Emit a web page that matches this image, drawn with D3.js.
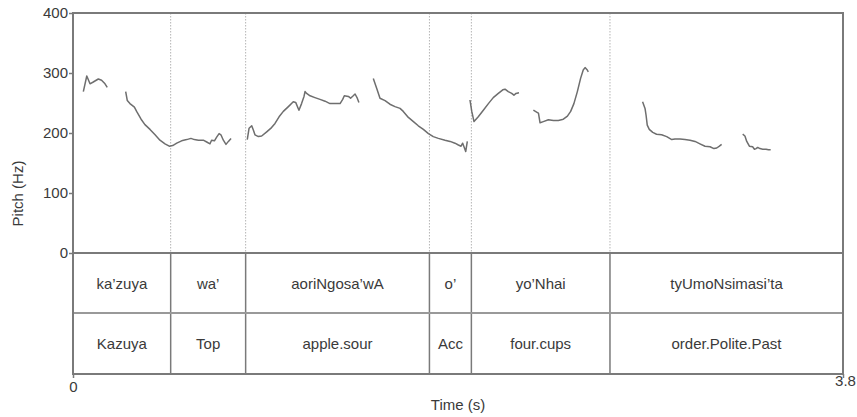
<!DOCTYPE html>
<html>
<head>
<meta charset="utf-8">
<script src="https://cdn.jsdelivr.net/npm/d3@7"></script>
<style>
  html, body { margin: 0; padding: 0; background: #fff; }
  svg { display: block; }
  text { font-family: "Liberation Sans", Arial, sans-serif; fill: #3a3a3a; }
</style>
</head>
<body>
<svg id="chart" width="857" height="417"></svg>
<script>
// ---- Data ----
const pitchTicks = [0, 100, 200, 300, 400];
const timeTickLabels = ["0", "3.8"];
const timeDomain = [0, 3.8];
const pitchDomain = [0, 400];

// interval boundaries (s)
const boundaries = [0.482, 0.852, 1.759, 1.966, 2.650];

// tier labels
const wordLabels = ["ka\u2019zuya", "wa\u2019", "aoriNgosa\u2019wA", "o\u2019", "yo\u2019Nhai", "tyUmoNsimasi\u2019ta"];
const glossLabels = ["Kazuya", "Top", "apple.sour", "Acc", "four.cups", "order.Polite.Past"];

// pitch contour segments: [time (s), pitch (Hz)]
const seg1 = [[0.051,269],[0.068,295],[0.084,282],[0.100,285],[0.125,290],[0.141,288],[0.158,282],[0.169,276]];
const seg2 = [[0.260,269],[0.268,254],[0.281,249],[0.303,243],[0.314,236],[0.336,223],[0.355,214],[0.380,206],[0.405,197],[0.429,188],[0.454,182],[0.475,178],[0.492,179],[0.512,183],[0.536,187],[0.561,189],[0.582,191],[0.599,189],[0.619,188],[0.643,188],[0.660,185],[0.676,182],[0.684,188],[0.698,187],[0.709,193],[0.721,199],[0.730,197],[0.742,188],[0.755,181],[0.767,186],[0.780,191]];
const seg3 = [[0.860,189],[0.869,208],[0.882,212],[0.890,205],[0.898,197],[0.915,194],[0.931,195],[0.956,202],[0.980,209],[0.997,216],[1.017,227],[1.038,236],[1.063,244],[1.087,252],[1.099,251],[1.115,238],[1.128,249],[1.140,261],[1.145,269],[1.153,266],[1.170,262],[1.194,259],[1.219,256],[1.244,253],[1.268,249],[1.293,249],[1.318,249],[1.331,256],[1.339,262],[1.359,261],[1.370,258],[1.383,262],[1.392,265],[1.403,258],[1.411,251]];
const seg4 = [[1.482,291],[1.499,274],[1.515,258],[1.540,254],[1.564,248],[1.589,244],[1.614,241],[1.630,236],[1.655,226],[1.680,219],[1.704,212],[1.729,206],[1.754,199],[1.778,194],[1.803,191],[1.836,188],[1.861,186],[1.885,183],[1.902,180],[1.915,178],[1.923,183],[1.931,176],[1.938,169],[1.946,186]];
const seg5 = [[1.959,255],[1.968,236],[1.979,219],[2.000,227],[2.025,238],[2.050,249],[2.074,259],[2.099,266],[2.121,272],[2.132,273],[2.148,269],[2.165,266],[2.176,263],[2.186,266],[2.201,267]];
const seg6 = [[2.272,238],[2.292,234],[2.297,233],[2.305,217],[2.321,219],[2.346,222],[2.371,221],[2.395,221],[2.420,223],[2.440,228],[2.456,236],[2.472,249],[2.489,269],[2.505,291],[2.518,305],[2.527,309],[2.538,305],[2.543,302]];
const seg7 = [[2.811,252],[2.823,241],[2.828,230],[2.834,213],[2.844,206],[2.861,201],[2.880,198],[2.905,197],[2.930,194],[2.955,189],[2.971,190],[2.996,190],[3.020,189],[3.045,188],[3.070,186],[3.094,182],[3.119,178],[3.144,177],[3.163,174],[3.177,175],[3.190,178],[3.201,181]];
const seg8 = [[3.305,198],[3.316,195],[3.325,186],[3.338,178],[3.354,177],[3.363,173],[3.371,174],[3.379,176],[3.390,174],[3.404,173],[3.420,173],[3.432,172],[3.443,172]];
const pitchSegments = [seg1, seg2, seg3, seg4, seg5, seg6, seg7, seg8];

// ---- Layout ----
const L = 73, R = 843, T = 13, PB = 253, T1B = 313, B = 374;
const frameColor = "#7a7a7a";

const svg = d3.select("#chart");
const x = d3.scaleLinear().domain(timeDomain).range([L, R]);
const y = d3.scaleLinear().domain(pitchDomain).range([PB, T]);

// dotted boundaries in pitch area
svg.append("g").selectAll("line").data(boundaries).join("line")
  .attr("x1", d => x(d)).attr("x2", d => x(d))
  .attr("y1", T).attr("y2", PB)
  .attr("stroke", "#b4b4b4").attr("stroke-width", 1)
  .attr("stroke-dasharray", "1.5,1.5");

// solid boundaries in tiers
svg.append("g").selectAll("line").data(boundaries).join("line")
  .attr("x1", d => x(d)).attr("x2", d => x(d))
  .attr("y1", PB).attr("y2", B)
  .attr("stroke", frameColor).attr("stroke-width", 1.5);

// tier separators
svg.append("line").attr("x1", L).attr("x2", R).attr("y1", PB).attr("y2", PB)
  .attr("stroke", frameColor).attr("stroke-width", 1.8);
svg.append("line").attr("x1", L).attr("x2", R).attr("y1", T1B).attr("y2", T1B)
  .attr("stroke", "#999").attr("stroke-width", 1.8);

// frame
svg.append("rect").attr("x", L).attr("y", T).attr("width", R - L).attr("height", B - T)
  .attr("fill", "none").attr("stroke", frameColor).attr("stroke-width", 2);

// pitch curves
const line = d3.line().x(d => x(d[0])).y(d => y(d[1]));
svg.append("g").selectAll("path").data(pitchSegments).join("path")
  .attr("d", line)
  .attr("fill", "none").attr("stroke", "#6e6e6e").attr("stroke-width", 1.5)
  .attr("stroke-linejoin", "round");

// y axis
const yAxis = d3.axisLeft(y).tickValues(pitchTicks).tickSize(4).tickSizeOuter(0).tickPadding(1);
const gy = svg.append("g").attr("transform", `translate(${L},0)`).call(yAxis);
gy.select(".domain").remove();
gy.selectAll(".tick line").attr("stroke", frameColor).attr("stroke-width", 1.5);
gy.selectAll(".tick text").attr("font-size", 15).attr("fill", "#3a3a3a")
  .attr("font-family", "Liberation Sans, Arial, sans-serif");

// x axis ticks (0 and 3.8)
const xAxis = d3.axisBottom(x).tickValues(timeDomain).tickFormat((d, i) => timeTickLabels[i])
  .tickSize(4).tickSizeOuter(0).tickPadding(3);
const gx = svg.append("g").attr("transform", `translate(0,${B})`).call(xAxis);
gx.select(".domain").remove();
gx.selectAll(".tick line").attr("stroke", frameColor).attr("stroke-width", 1.5);
gx.selectAll(".tick text").attr("font-size", 15).attr("fill", "#3a3a3a")
  .attr("font-family", "Liberation Sans, Arial, sans-serif");
gx.selectAll(".tick").filter((d, i) => i === 1).select("text").attr("dy", "0.35em").attr("x", 2);

// tier text
const edges = [timeDomain[0], ...boundaries, timeDomain[1]];
const mids = wordLabels.map((_, i) => (edges[i] + edges[i + 1]) / 2);
svg.append("g").selectAll("text").data(wordLabels).join("text")
  .attr("x", (d, i) => x(mids[i])).attr("y", (PB + T1B) / 2)
  .attr("text-anchor", "middle").attr("dominant-baseline", "central")
  .attr("font-size", 15).text(d => d);
svg.append("g").selectAll("text").data(glossLabels).join("text")
  .attr("x", (d, i) => x(mids[i])).attr("y", (T1B + B) / 2)
  .attr("text-anchor", "middle").attr("dominant-baseline", "central")
  .attr("font-size", 15).text(d => d);

// axis titles
svg.append("text").attr("x", (L + R) / 2).attr("y", 410)
  .attr("text-anchor", "middle").attr("font-size", 15).text("Time (s)");
svg.append("text")
  .attr("transform", `translate(23,${(T + B) / 2}) rotate(-90)`)
  .attr("text-anchor", "middle").attr("font-size", 15).text("Pitch (Hz)");
</script>
</body>
</html>
